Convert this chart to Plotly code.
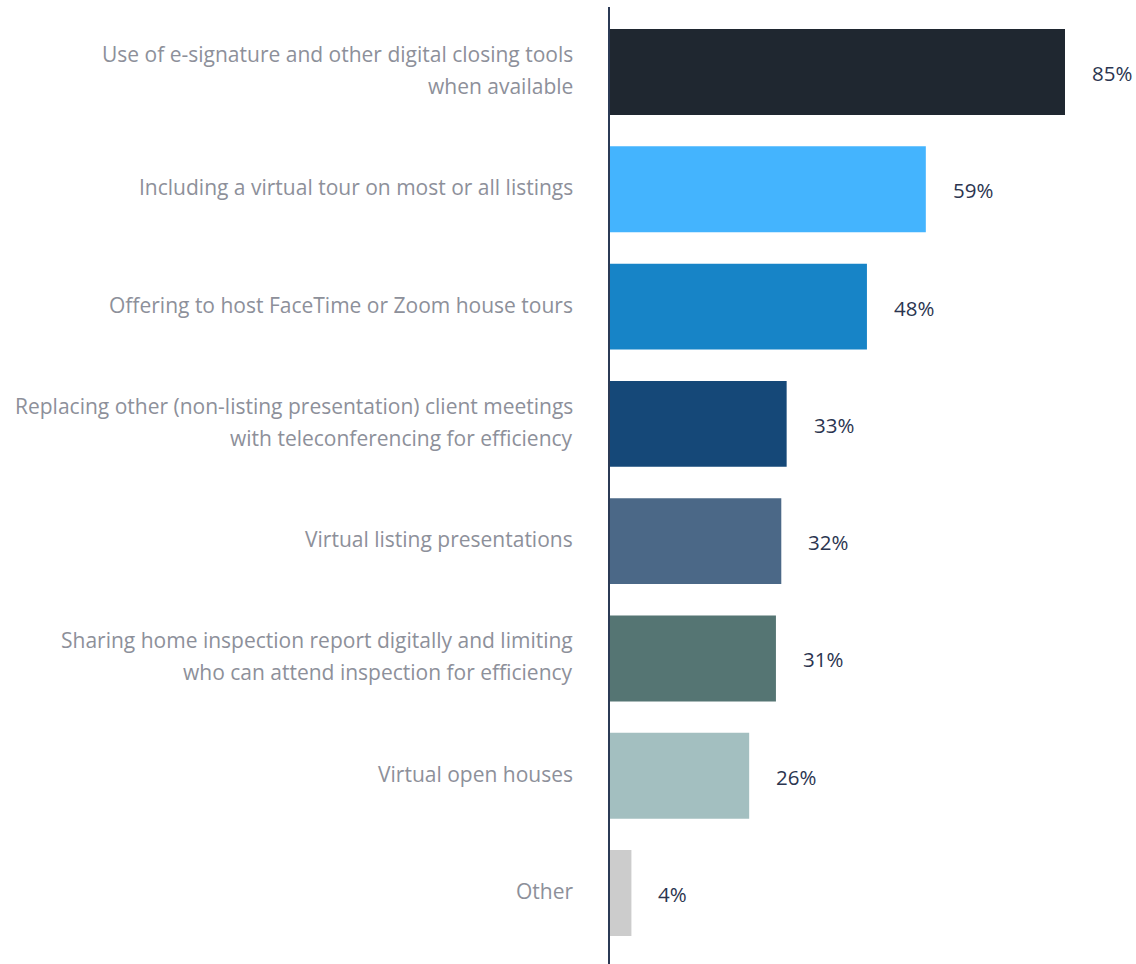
import plotly.graph_objects as go

# Survey categories (top to bottom) and the share of respondents for each
categories = [
    "Use of e-signature and other digital closing tools<br>when available",
    "Including a virtual tour on most or all listings",
    "Offering to host FaceTime or Zoom house tours",
    "Replacing other (non-listing presentation) client meetings<br>with teleconferencing for efficiency",
    "Virtual listing presentations",
    "Sharing home inspection report digitally and limiting<br>who can attend inspection for efficiency",
    "Virtual open houses",
    "Other",
]
values = [85, 59, 48, 33, 32, 31, 26, 4]
bar_colors = ["#1f2730", "#44b4fe", "#1784c7", "#154878",
              "#4b6887", "#557573", "#a3bfc0", "#cccccc"]

W, H = 1136, 964
LEFT = 610
FONT = "Open Sans"
LABEL_COLOR = "#8d909a"
VALUE_COLOR = "#2b3550"

n = len(categories)
ypos = list(range(n))

fig = go.Figure(
    go.Bar(
        x=values,
        y=ypos,
        orientation="h",
        marker=dict(color=bar_colors, line=dict(width=0)),
        width=0.733,
        hoverinfo="skip",
    )
)

annotations = []
line_gap = 16
for yi, label, v in zip(ypos, categories, values):
    lines = label.split("<br>")
    k = len(lines)
    for j, line in enumerate(lines):
        offset = (j - (k - 1) / 2) * 2 * line_gap
        annotations.append(dict(
            x=0, y=yi, xref="x", yref="y", text=line, showarrow=False,
            xanchor="right", yanchor="middle", xshift=-35, yshift=-offset + 2,
            font=dict(family=FONT, size=21, color=LABEL_COLOR),
        ))
    annotations.append(dict(
        x=v, y=yi, xref="x", yref="y", text=f"{v}%", showarrow=False,
        xanchor="left", yanchor="middle", xshift=25, yshift=-1,
        font=dict(family=FONT, size=20.5, color=VALUE_COLOR),
    ))

plot_w = W - LEFT
xmax = 85 * plot_w / (1065 - LEFT)

fig.update_layout(
    width=W, height=H,
    margin=dict(l=LEFT, r=0, t=7, b=0, pad=0),
    paper_bgcolor="white", plot_bgcolor="white",
    showlegend=False,
    xaxis=dict(range=[0, xmax], visible=False, fixedrange=True),
    yaxis=dict(range=[n - 0.5 + 0.106, -0.555], showticklabels=False,
               showgrid=False, zeroline=False, showline=True,
               linecolor="#2b3a55", linewidth=2, ticks=""),
    annotations=annotations,
)

fig.write_html("out.html")
